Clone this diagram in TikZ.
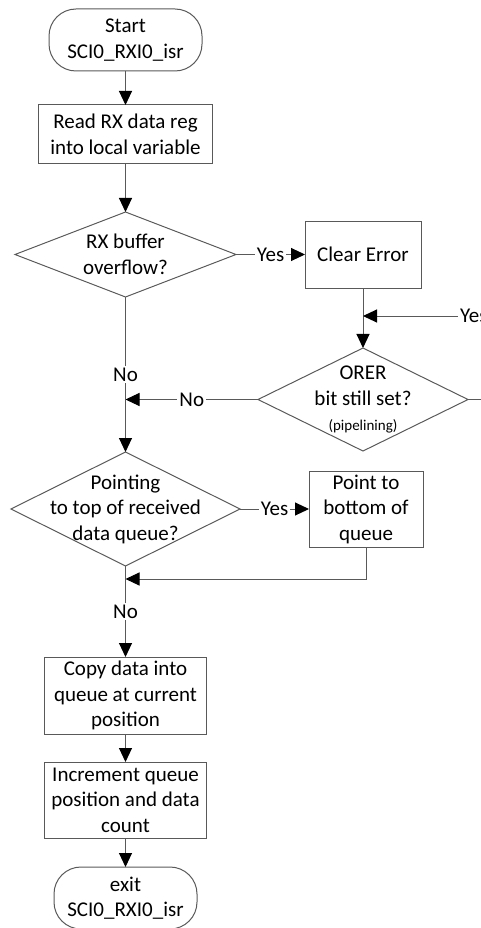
\documentclass[tikz,border=0pt]{standalone}
\usepackage{fontspec}
\setmainfont{Carlito}
\usetikzlibrary{arrows.meta,shapes.geometric}
\begin{document}
\begin{tikzpicture}[x=1pt,y=-1pt,
  every node/.style={font=\fontsize{21}{25.5}\selectfont, align=center, inner sep=0pt, outer sep=0pt},
  box/.style={draw=black!65, line width=1pt, rectangle},
  term/.style={draw=black!65, line width=1pt, rectangle, rounded corners=27pt},
  dia/.style={draw=black!65, line width=1pt, diamond},
  conn/.style={draw=black!65, line width=1pt, -{Triangle[length=14pt,width=13pt,color=black]}},
  lbl/.style={fill=white, inner xsep=2pt, inner ysep=2pt},
  small/.style={font=\fontsize{15}{18}\selectfont},
]
\useasboundingbox (0,0) rectangle (481,928);
\clip (0,0) rectangle (481,928);

\node[term, minimum width=153pt, minimum height=62pt] (start) at (125.5,40) {Start\\SCI0\_RXI0\_isr};
\node[box, minimum width=174.5pt, minimum height=59pt] (read) at (125.5,134.5) {Read RX data reg\\into local variable};
\node[dia, minimum width=221pt, minimum height=85pt] (d1) at (125.5,254.5) {};
\node (d1t) at (d1.center) {RX buffer\\overflow?};
\node[box, minimum width=116pt, minimum height=67pt] (clr) at (363,254.5) {Clear Error};
\node[dia, minimum width=210pt, minimum height=103pt] (d3) at (363,399.5) {};
\node (d3t) at (363,386) {ORER\\bit still set?};
\node[small] (d3p) at (363,426) {(pipelining)};
\node[dia, minimum width=229pt, minimum height=114pt] (d2) at (125.5,509) {};
\node (d2t) at (d2.center) {Pointing\\to top of received\\data queue?};
\node[box, minimum width=114pt, minimum height=76pt] (pt) at (366,509) {Point to\\bottom of\\queue};
\node[box, minimum width=162pt, minimum height=77pt] (copy) at (125.5,695.5) {Copy data into\\queue at current\\position};
\node[box, minimum width=162pt, minimum height=76pt] (inc) at (125.5,800) {Increment queue\\position and data\\count};
\node[term, minimum width=143pt, minimum height=62pt] (exit) at (125.5,898) {exit\\SCI0\_RXI0\_isr};

\coordinate (j1) at (363,316);
\coordinate (j2) at (125.5,579);
\coordinate (j3) at (125.5,399.5);

\draw[conn] (start) -- (read);
\draw[conn] (read) -- (d1);
\draw[conn] (d1.east) -- node[lbl]{Yes} (clr.west);
\draw[conn] (clr) -- (d3);
\draw[conn] (d3.east) -- (495,399.5) -- (495,316) -- node[lbl,pos=0.16]{Yes} (j1);
\draw[conn] (d3.west) -- node[lbl]{No} (j3);
\draw[conn] (d1.south) -- node[lbl]{No} (d2.north);
\draw[conn] (d2.east) -- node[lbl]{Yes} (pt.west);
\draw[conn] (pt.south) |- (j2);
\draw[conn] (d2.south) -- node[lbl]{No} (copy.north);
\draw[conn] (copy) -- (inc);
\draw[conn] (inc) -- (exit);
\end{tikzpicture}
\end{document}
